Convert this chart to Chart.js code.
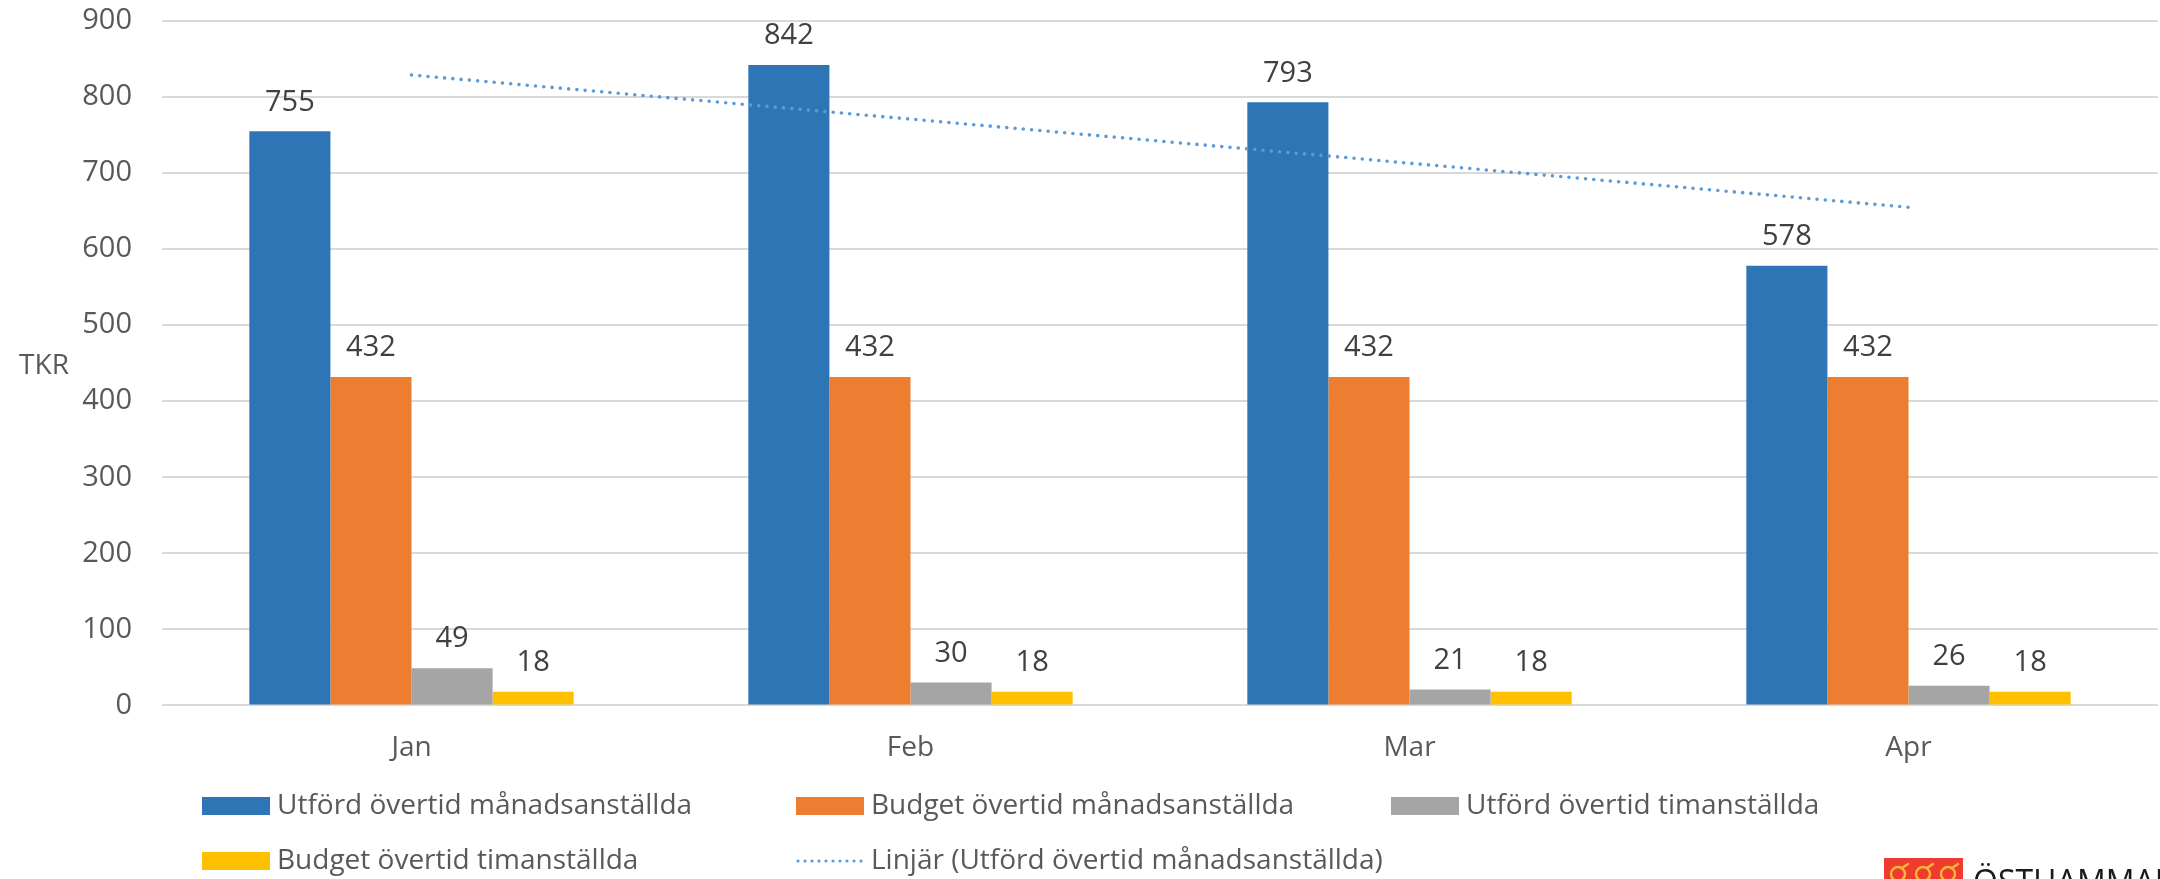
<!DOCTYPE html>
<html>
<head>
<meta charset="utf-8">
<script src="https://cdn.jsdelivr.net/npm/chart.js@4.4.0/dist/chart.umd.min.js"></script>
<style>
  html, body { margin: 0; padding: 0; background: #fff; }
  #wrap { width: 2160px; height: 879px; }
</style>
</head>
<body>
<div id="wrap"><canvas id="myChart" width="2160" height="879"></canvas></div>
<script>
// data
const months = ["Jan", "Feb", "Mar", "Apr"];
const utfordManad = [755, 842, 793, 578];
const budgetManad = [432, 432, 432, 432];
const utfordTim = [49, 30, 21, 26];
const budgetTim = [18, 18, 18, 18];
const trendManad = [829, 771, 713, 655]; // linjär trend, avläst
const yMax = 900;
const yStep = 100;
const yTitle = "TKR";

const FONT = "'Open Sans', sans-serif";
const legendNames = [
  "Utförd övertid månadsanställda",
  "Budget övertid månadsanställda",
  "Utförd övertid timanställda",
  "Budget övertid timanställda",
  "Linjär (Utförd övertid månadsanställda)"
];

// egna etiketter, y-titel, förklaring och logga
const extras = {
  id: "extras",
  afterDatasetsDraw(chart) {
    const ctx = chart.ctx;
    ctx.save();
    ctx.font = "29px " + FONT;
    ctx.fillStyle = "#404040";
    ctx.textAlign = "center";
    ctx.textBaseline = "middle";
    chart.data.datasets.forEach((ds, i) => {
      if (ds.type === "line") return;
      chart.getDatasetMeta(i).data.forEach((el, j) => {
        ctx.fillText(String(ds.data[j]), el.x, el.y - 29);
      });
    });
    ctx.restore();
  },
  afterDraw(chart) {
    const ctx = chart.ctx;
    ctx.save();
    // y-axelns titel, liggande
    ctx.font = "28px " + FONT;
    ctx.fillStyle = "#595959";
    ctx.textAlign = "center";
    ctx.textBaseline = "middle";
    ctx.fillText(yTitle, 44, 366);

    // förklaring i två rader
    const cols = [202, 796, 1391];
    const rows = [806, 861];
    ctx.font = "28px " + FONT;
    ctx.textAlign = "left";
    chart.data.datasets.forEach((ds, i) => {
      const x = cols[i % 3];
      const y = rows[Math.floor(i / 3)];
      if (ds.type === "line") {
        ctx.strokeStyle = ds.borderColor;
        ctx.lineWidth = 3.2;
        ctx.lineCap = "round";
        ctx.setLineDash([0, 7]);
        ctx.beginPath();
        ctx.moveTo(x + 2, y);
        ctx.lineTo(x + 68, y);
        ctx.stroke();
        ctx.setLineDash([]);
      } else {
        ctx.fillStyle = ds.backgroundColor;
        ctx.fillRect(x, y - 9, 68, 18);
      }
      ctx.fillStyle = "#595959";
      ctx.fillText(legendNames[i], x + 75, y);
    });

    // logga nere till höger
    ctx.fillStyle = "#f03c2e";
    ctx.fillRect(1884, 858, 79, 30);
    ctx.strokeStyle = "#f5b63a";
    ctx.lineWidth = 2.4;
    [1898, 1923, 1948].forEach(cx => {
      ctx.beginPath();
      ctx.arc(cx, 874, 7, 0, Math.PI * 2);
      ctx.stroke();
      ctx.beginPath();
      ctx.moveTo(cx + 4, 868);
      ctx.lineTo(cx + 10, 864);
      ctx.stroke();
    });
    ctx.fillStyle = "#1a1a1a";
    ctx.font = "32px " + FONT;
    ctx.textBaseline = "alphabetic";
    ctx.fillText("ÖSTHAMMAR", 1973, 893);
    ctx.restore();
  }
};

const chart = document.getElementById("myChart").getContext("2d");

const myChart = new Chart(chart, {
  data: {
    labels: months,
    datasets: [
      { type: "bar", label: legendNames[0], data: utfordManad, backgroundColor: "#2E75B6", order: 1 },
      { type: "bar", label: legendNames[1], data: budgetManad, backgroundColor: "#ED7D31", order: 1 },
      { type: "bar", label: legendNames[2], data: utfordTim, backgroundColor: "#A5A5A5", order: 1 },
      { type: "bar", label: legendNames[3], data: budgetTim, backgroundColor: "#FFC000", order: 1 },
      {
        type: "line", label: legendNames[4], data: trendManad,
        borderColor: "#5B9BD5", borderWidth: 3.6, borderDash: [0, 8.3], borderCapStyle: "round",
        pointRadius: 0, fill: false, tension: 0, order: 0
      }
    ]
  },
  options: {
    responsive: false,
    animation: false,
    datasets: { bar: { categoryPercentage: 0.65, barPercentage: 1 } },
    layout: { autoPadding: false, padding: { top: 21, right: 2, bottom: 96, left: 0 } },
    plugins: { legend: { display: false }, tooltip: { enabled: false } },
    scales: {
      x: {
        grid: { display: false },
        border: { display: false },
        ticks: { color: "#595959", font: { family: FONT, size: 28 }, padding: 18 }
      },
      y: {
        min: 0,
        max: yMax,
        ticks: { stepSize: yStep, color: "#595959", font: { family: FONT, size: 29 }, padding: 0 },
        grid: { color: "#d9d9d9", lineWidth: 2, drawTicks: true, tickLength: 30, tickColor: "rgba(0,0,0,0)" },
        border: { display: false },
        afterFit(scale) { scale.width = 162; }
      }
    }
  },
  plugins: [extras]
});
window.myChart = myChart;
</script>
</body>
</html>
